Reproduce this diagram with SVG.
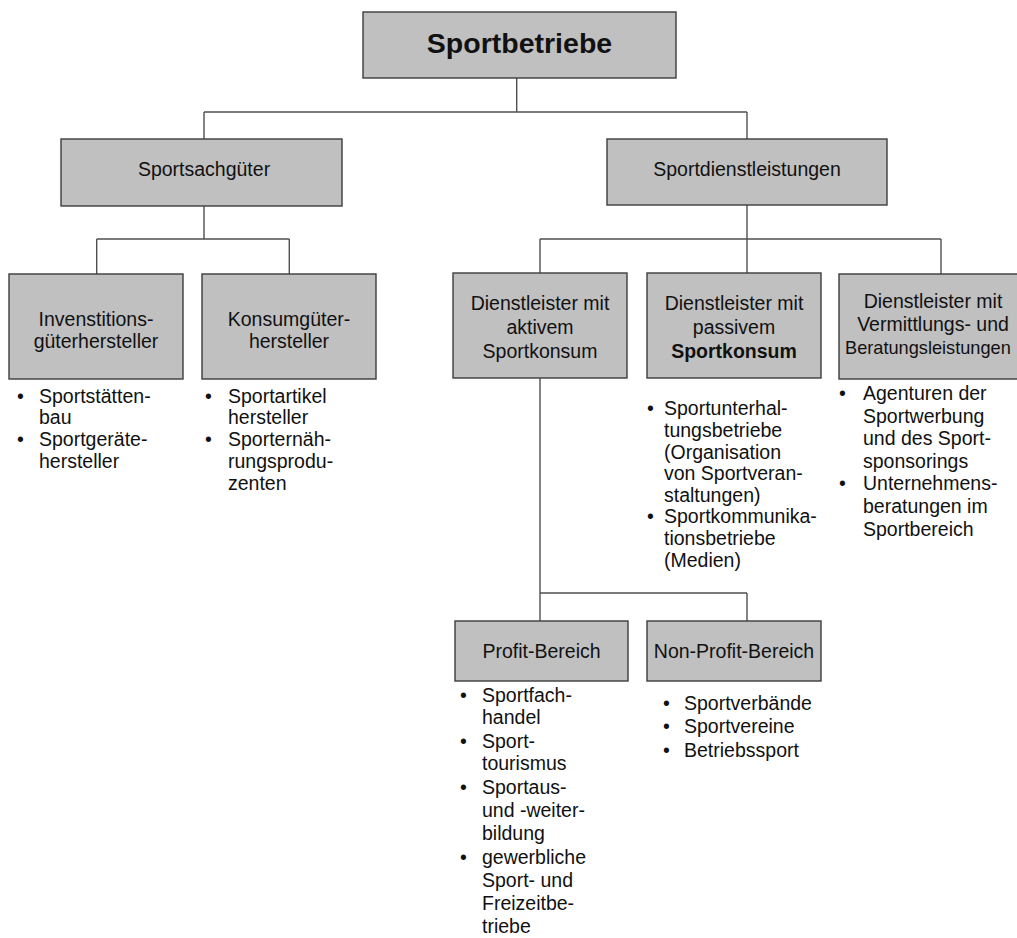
<svg xmlns="http://www.w3.org/2000/svg" width="1017" height="938" viewBox="0 0 1017 938">
<style>
.box{fill:#c0c0c0;stroke:#3c3c3c;stroke-width:1.4}
.ln{fill:none;stroke:#505050;stroke-width:1.4}
text{font-family:"Liberation Sans",Arial,sans-serif;font-size:19.5px;fill:#111}
.c{text-anchor:middle}
.t{font-size:28.5px;font-weight:bold}
.b{font-weight:bold}
</style>
<rect width="1017" height="938" fill="#fff"/>
<g id="connectors">
<path class="ln" d="M516.7 78V112M204 112H747M204 112V139M747 112V139"/>
<path class="ln" d="M204 206V239M96.7 239H289.3M96.7 239V274M289.3 239V274"/>
<path class="ln" d="M747 205V239M540 239H941M540 239V273M747 239V273M941 239V274"/>
<path class="ln" d="M540 378V593M540 593H747M540 593V621M747 593V621"/>
</g>
<g id="sportbetriebe">
<rect class="box" x="363" y="12" width="313" height="66"/>
<text class="c t" x="519.5" y="53">Sportbetriebe</text>
</g>
<g id="sportsachgueter">
<rect class="box" x="61" y="139" width="281" height="67"/>
<text class="c" x="204" y="176">Sportsachgüter</text>
</g>
<g id="sportdienstleistungen">
<rect class="box" x="607" y="139" width="280" height="66"/>
<text class="c" x="747" y="176">Sportdienstleistungen</text>
</g>
<g id="investitionsgueter">
<rect class="box" x="9" y="274" width="174" height="105"/>
<text class="c" x="96" y="326">Invenstitions-</text>
<text class="c" x="96" y="348">güterhersteller</text>
<text x="17" y="403">•</text><text x="39" y="403">Sportstätten-</text>
<text x="39" y="424">bau</text>
<text x="17" y="446">•</text><text x="39" y="446">Sportgeräte-</text>
<text x="39" y="468">hersteller</text>
</g>
<g id="konsumgueter">
<rect class="box" x="202" y="274" width="174" height="105"/>
<text class="c" x="289" y="326">Konsumgüter-</text>
<text class="c" x="289" y="348">hersteller</text>
<text x="205" y="403">•</text><text x="228" y="403">Sportartikel</text>
<text x="228" y="424">hersteller</text>
<text x="205" y="446">•</text><text x="228" y="446">Sporternäh-</text>
<text x="228" y="468">rungsprodu-</text>
<text x="228" y="490">zenten</text>
</g>
<g id="aktiv">
<rect class="box" x="453" y="273" width="174" height="105"/>
<text class="c" x="540" y="310">Dienstleister mit</text>
<text class="c" x="540" y="334">aktivem</text>
<text class="c" x="540" y="358">Sportkonsum</text>
</g>
<g id="passiv">
<rect class="box" x="647" y="273" width="174" height="105"/>
<text class="c" x="734" y="310">Dienstleister mit</text>
<text class="c" x="734" y="334">passivem</text>
<text class="c b" x="734" y="358">Sportkonsum</text>
<text x="647" y="415">•</text><text x="664" y="415">Sportunterhal-</text>
<text x="664" y="437">tungsbetriebe</text>
<text x="664" y="459">(Organisation</text>
<text x="664" y="480">von Sportveran-</text>
<text x="664" y="502">staltungen)</text>
<text x="647" y="523">•</text><text x="664" y="523">Sportkommunika-</text>
<text x="664" y="545">tionsbetriebe</text>
<text x="664" y="567">(Medien)</text>
</g>
<g id="vermittlung">
<rect class="box" x="839" y="274" width="182" height="105"/>
<text class="c" x="933" y="308">Dienstleister mit</text>
<text class="c" x="933" y="331">Vermittlungs- und</text>
<text x="845" y="354" style="font-size:18.2px">Beratungsleistungen</text>
<text x="839" y="400">•</text><text x="863" y="400">Agenturen der</text>
<text x="863" y="423">Sportwerbung</text>
<text x="863" y="445">und des Sport-</text>
<text x="863" y="468">sponsorings</text>
<text x="839" y="490">•</text><text x="863" y="490">Unternehmens-</text>
<text x="863" y="513">beratungen im</text>
<text x="863" y="536">Sportbereich</text>
</g>
<g id="profit">
<rect class="box" x="455" y="621" width="173" height="60"/>
<text class="c" x="541.5" y="658">Profit-Bereich</text>
<text x="460" y="702">•</text><text x="482" y="702">Sportfach-</text>
<text x="482" y="724">handel</text>
<text x="460" y="748">•</text><text x="482" y="748">Sport-</text>
<text x="482" y="770">tourismus</text>
<text x="460" y="794">•</text><text x="482" y="794">Sportaus-</text>
<text x="482" y="817">und -weiter-</text>
<text x="482" y="840">bildung</text>
<text x="460" y="864">•</text><text x="482" y="864">gewerbliche</text>
<text x="482" y="887">Sport- und</text>
<text x="482" y="910">Freizeitbe-</text>
<text x="482" y="933">triebe</text>
</g>
<g id="nonprofit">
<rect class="box" x="647" y="621" width="174" height="60"/>
<text class="c" x="734" y="658">Non-Profit-Bereich</text>
<text x="663" y="710">•</text><text x="684" y="710">Sportverbände</text>
<text x="663" y="733">•</text><text x="684" y="733">Sportvereine</text>
<text x="663" y="757">•</text><text x="684" y="757">Betriebssport</text>
</g>
</svg>
